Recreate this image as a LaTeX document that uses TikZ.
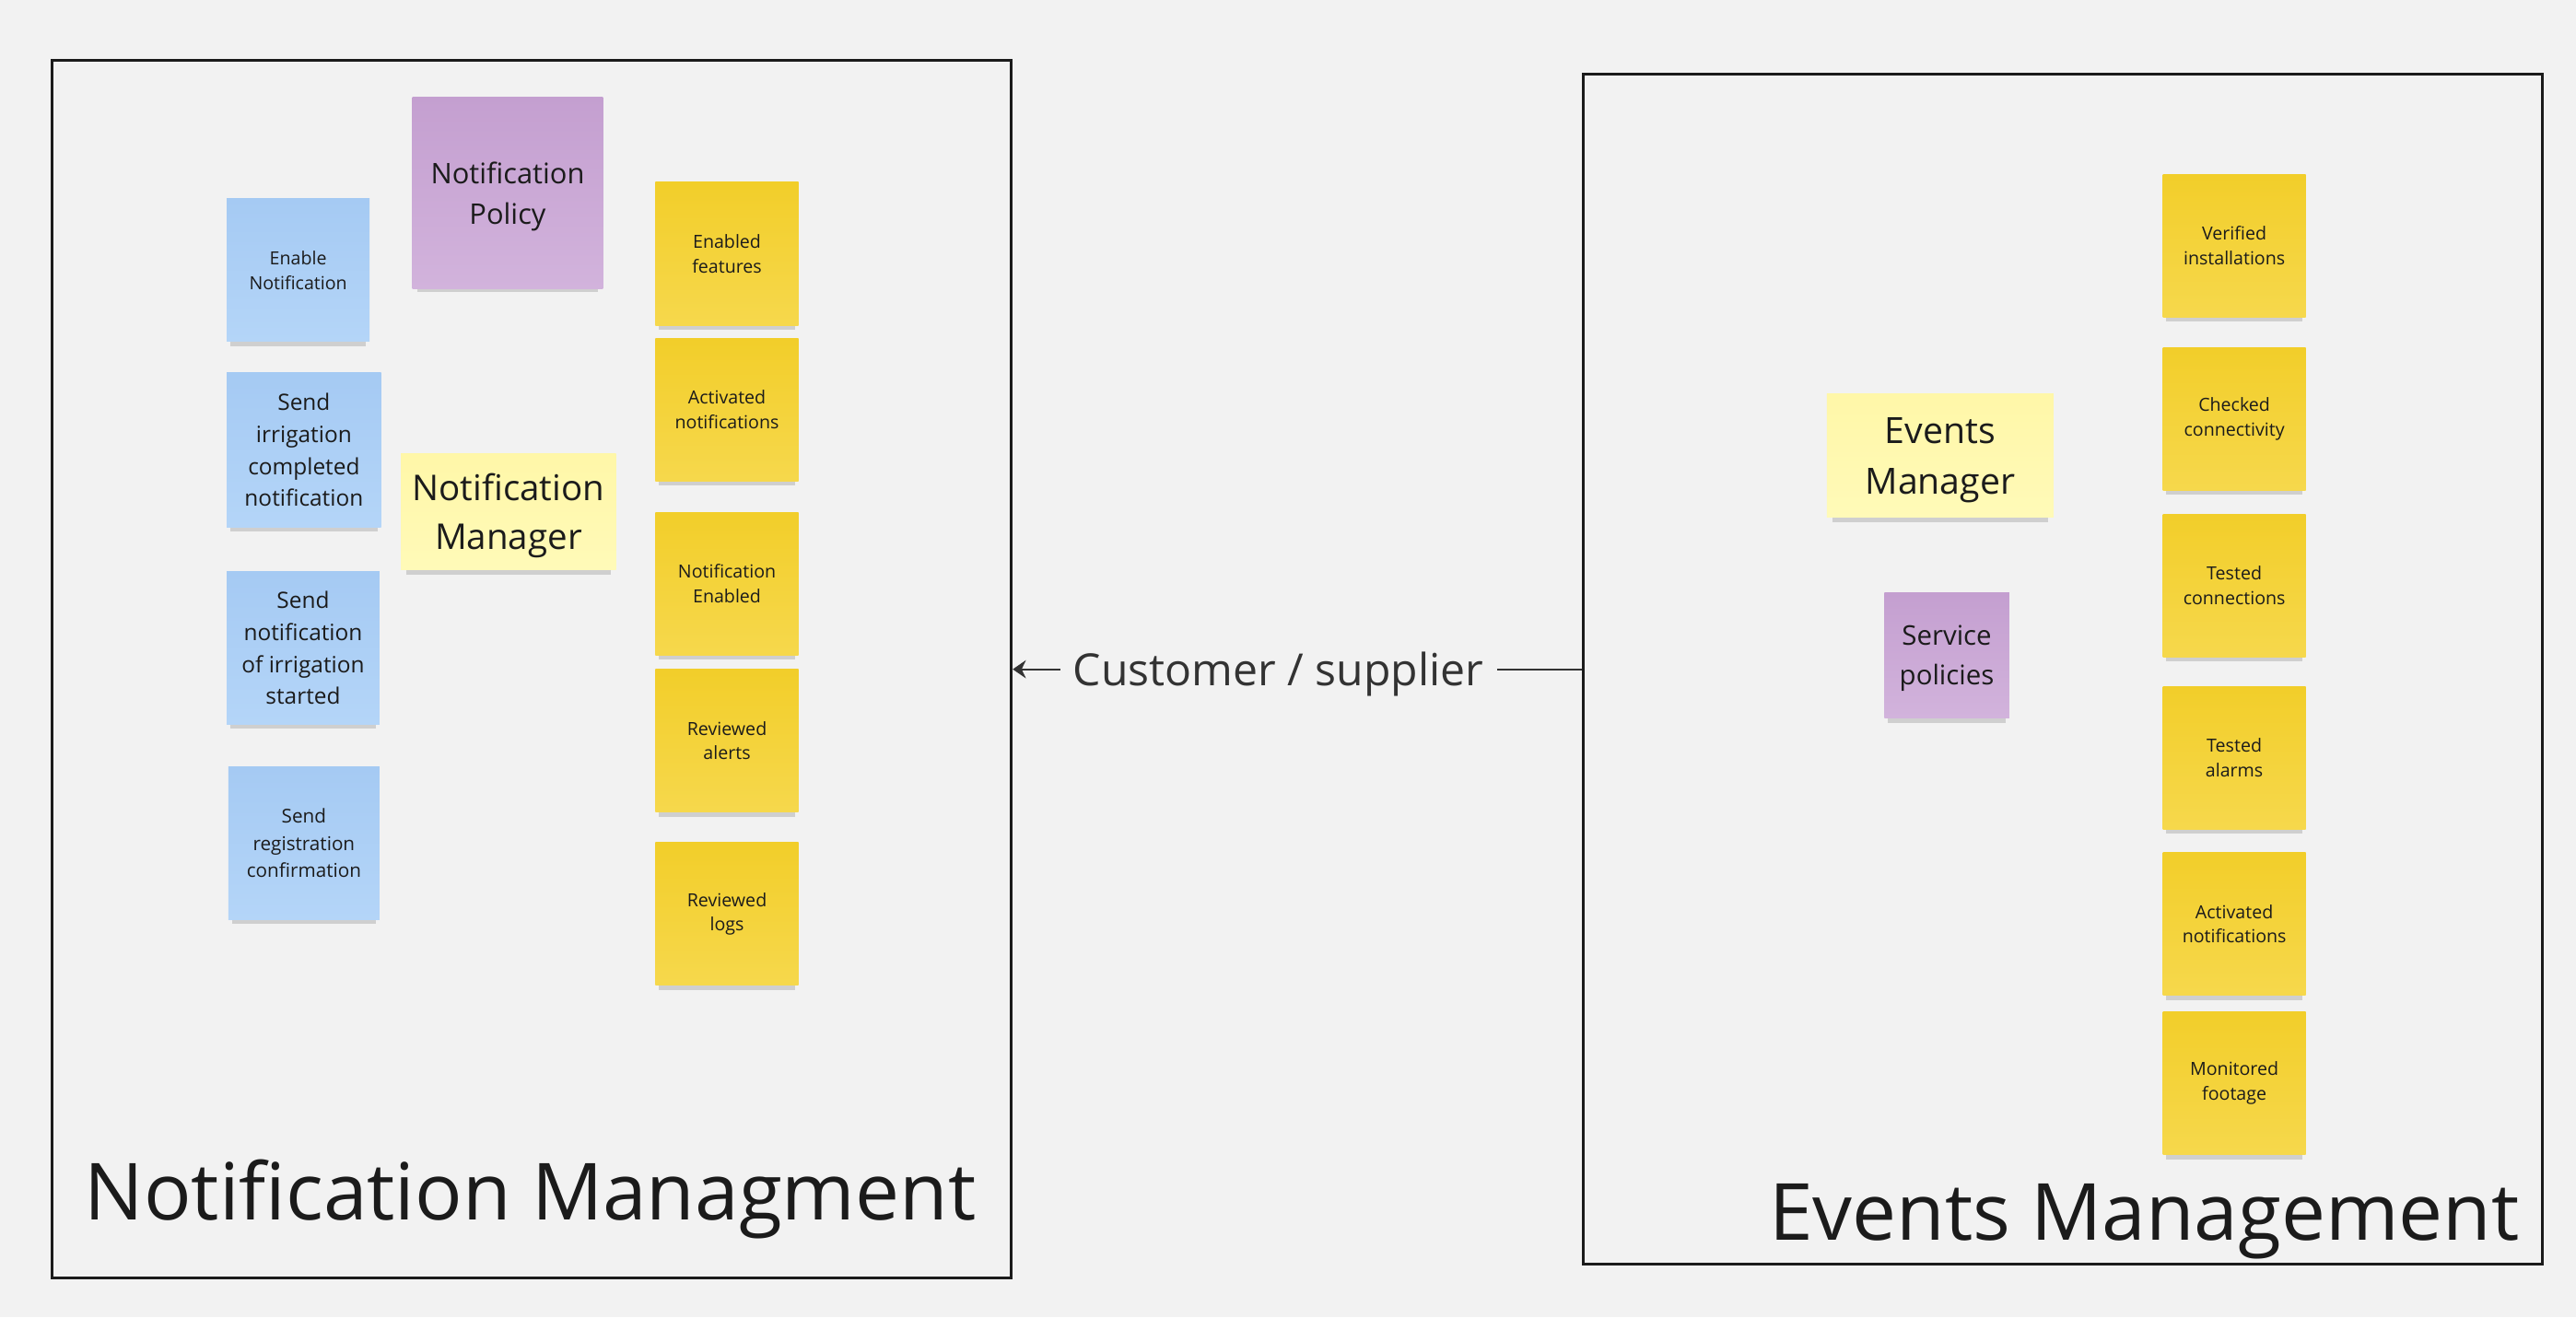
\documentclass[tikz,border=0pt]{standalone}
\usepackage{fontspec}
\setmainfont{Open Sans}
\usetikzlibrary{arrows.meta, shadows}

\definecolor{board}{HTML}{F2F2F2}
\definecolor{ink}{HTML}{1B1B1B}
\definecolor{linkgray}{HTML}{333333}
\definecolor{cmdTop}{HTML}{A5CAF3}
\definecolor{cmdBottom}{HTML}{B4D5F8}
\definecolor{polTop}{HTML}{C49FD0}
\definecolor{polBottom}{HTML}{D2B3DC}
\definecolor{aggTop}{HTML}{FFF7A8}
\definecolor{aggBottom}{HTML}{FFFAB8}
\definecolor{evtTop}{HTML}{F2CE2A}
\definecolor{evtBottom}{HTML}{F6D84C}

\begin{document}
\begin{tikzpicture}[x=0.5pt, y=-0.5pt,
    note/.style={inner sep=0pt, align=center, text=ink,
        drop shadow={shadow xshift=0pt, shadow yshift=-2.6pt, shadow scale=0.95, opacity=0.14, fill=black}},
    event/.style={note, top color=evtTop, bottom color=evtBottom,
        minimum width=43.5pt, minimum height=43.5pt, font=\fontsize{5.5}{7.5}\selectfont},
    command/.style={note, top color=cmdTop, bottom color=cmdBottom},
    policy/.style={note, top color=polTop, bottom color=polBottom, text depth=0pt},
    aggregate/.style={note, top color=aggTop, bottom color=aggBottom, text depth=0pt},
    context/.style={draw=ink, line width=0.85pt, inner sep=0pt},
    title/.style={inner sep=0pt, text=ink, font=\fontsize{24}{28}\selectfont}]

    % Board
    \fill[board] (0,0) rectangle (1568,802);
    \useasboundingbox (0,0) rectangle (1568,802);

    % Bounded contexts
    \node[context, minimum width=292pt, minimum height=370.8pt] (notifCtx) at (323.6,407.5) {};
    \node[context, minimum width=292pt, minimum height=362.4pt] (eventsCtx) at (1255.6,407.5) {};
    \node[title, anchor=base west] (notifTitle) at (51,742.5) {Notification Managment};
    \node[title, anchor=base east] (eventsTitle) at (1534,755) {Events Management};

    % Notification Managment: commands
    \node[command, minimum width=43.5pt, minimum height=43.5pt, font=\fontsize{5.5}{7.5}\selectfont]
        (enableNotif) at (181.5,164.5) {Enable\\Notification};
    \node[command, minimum width=47pt, minimum height=47pt, font=\fontsize{6.85}{9.75}\selectfont]
        (sendCompleted) at (185,274) {Send\\irrigation\\completed\\notification};
    \node[command, minimum width=46.5pt, minimum height=46.5pt, font=\fontsize{6.85}{9.75}\selectfont]
        (sendStarted) at (184.5,394.5) {Send\\notification\\of irrigation\\started};
    \node[command, minimum width=46pt, minimum height=46.5pt, font=\fontsize{5.8}{8.25}\selectfont]
        (sendRegistration) at (185,513.5) {Send\\registration\\confirmation};

    % Notification Managment: policy and aggregate
    \node[policy, minimum width=58pt, minimum height=58.5pt, font=\fontsize{8.65}{12.5}\selectfont]
        (notifPolicy) at (309,117.5) {Notification\\Policy};
    \node[aggregate, minimum width=65.5pt, minimum height=35.5pt, font=\fontsize{10.8}{15}\selectfont]
        (notifManager) at (309.5,311.5) {Notification\\Manager};

    % Notification Managment: events
    \node[event] (enabledFeatures) at (442.5,154.5) {Enabled\\features};
    \node[event] (activatedNotif) at (442.5,249.5) {Activated\\notifications};
    \node[event] (notifEnabled) at (442.5,355.5) {Notification\\Enabled};
    \node[event] (reviewedAlerts) at (442.5,451) {Reviewed\\alerts};
    \node[event] (reviewedLogs) at (442.5,556.5) {Reviewed\\logs};

    % Events Management: aggregate and policy
    \node[aggregate, minimum width=69pt, minimum height=37.5pt, font=\fontsize{11}{15.5}\selectfont]
        (eventsManager) at (1181,277.5) {Events\\Manager};
    \node[policy, minimum width=38pt, minimum height=38pt, font=\fontsize{8.25}{12}\selectfont]
        (servicePolicies) at (1185,399) {Service\\policies};

    % Events Management: events
    \node[event] (verifiedInst) at (1360,149.5) {Verified\\installations};
    \node[event] (checkedConn) at (1360,255) {Checked\\connectivity};
    \node[event] (testedConn) at (1360,356.5) {Tested\\connections};
    \node[event] (testedAlarms) at (1360,461.5) {Tested\\alarms};
    \node[event] (activatedNotifEv) at (1360,562.5) {Activated\\notifications};
    \node[event] (monitoredFootage) at (1360,659.5) {Monitored\\footage};

    % Context map
    \draw[-{Stealth[length=4pt, width=5.5pt]}, linkgray, line width=0.55pt]
        (eventsCtx.west) -- node[pos=0.533, fill=board, inner xsep=4pt, text depth=0pt, text=linkgray,
        font=\fontsize{13.5}{16}\selectfont] (relation) {Customer / supplier} (notifCtx.east);
\end{tikzpicture}
\end{document}
